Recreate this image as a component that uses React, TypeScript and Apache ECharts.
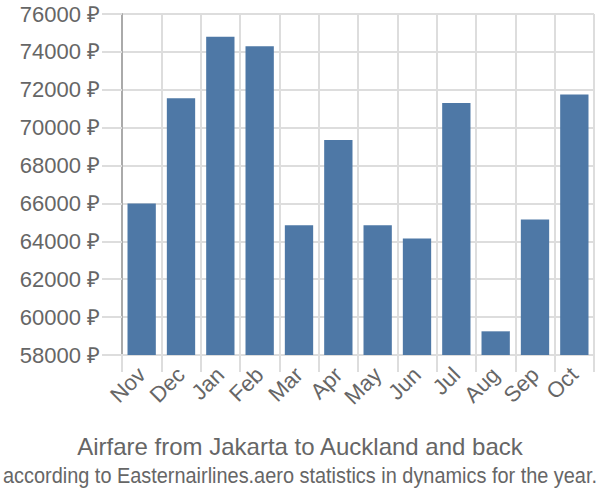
import React, { useEffect, useRef } from "react";
import * as echarts from "echarts";

const categories = ["Nov", "Dec", "Jan", "Feb", "Mar", "Apr", "May", "Jun", "Jul", "Aug", "Sep", "Oct"];
const prices = [66000, 71550, 74800, 74300, 64850, 69350, 64850, 64150, 71300, 59250, 65150, 71750];
const titleText = "Airfare from Jakarta to Auckland and back";
const subtitleText = "according to Easternairlines.aero statistics in dynamics for the year.";

export default function App() {
  const ref = useRef<HTMLDivElement>(null);
  useEffect(() => {
    if (!ref.current) return;
    const chart = echarts.init(ref.current, null, { renderer: "svg" });
    const font = "'Liberation Sans', Arial, sans-serif";
    chart.setOption({
      animation: false,
      grid: { left: 122, right: 6, top: 14, bottom: 145, containLabel: false },
      graphic: [
        {
          type: "text",
          x: 300,
          y: 446,
          style: {
            text: titleText,
            fontFamily: font,
            fontSize: 24,
            fill: "#666",
            align: "center",
            verticalAlign: "middle",
          },
        },
        {
          type: "text",
          x: 300,
          y: 475,
          scaleX: 0.905,
          originX: 0,
          originY: 0,
          style: {
            text: subtitleText,
            fontFamily: font,
            fontSize: 22,
            fill: "#666",
            align: "center",
            verticalAlign: "middle",
          },
        },
      ],
      xAxis: {
        type: "category",
        data: categories,
        axisLine: { show: true, lineStyle: { color: "#ddd", width: 2 } },
        axisTick: { show: true, length: 17, alignWithLabel: false, lineStyle: { color: "#ddd", width: 2 } },
        splitLine: { show: true, lineStyle: { color: "#ddd", width: 2 } },
        axisLabel: {
          rotate: 45,
          fontFamily: font,
          fontSize: 22,
          color: "#666",
          margin: 16,
          interval: 0,
        },
      },
      yAxis: {
        type: "value",
        min: 58000,
        max: 76000,
        interval: 2000,
        axisLine: { show: true, lineStyle: { color: "#aaa", width: 2 } },
        axisTick: { show: true, length: 20, lineStyle: { color: "#ddd", width: 2 } },
        splitLine: { show: true, lineStyle: { color: "#ddd", width: 2 } },
        axisLabel: {
          formatter: (v: number) => `${v} ₽`,
          fontFamily: font,
          fontSize: 22,
          color: "#666",
          margin: 22,
        },
      },
      series: [
        {
          type: "bar",
          data: prices,
          barCategoryGap: "28%",
          itemStyle: { color: "#4e78a6" },
        },
      ],
    });
    return () => chart.dispose();
  }, []);
  return <div ref={ref} style={{ width: 600, height: 500, position: "absolute", left: 0, top: 0 }} />;
}
